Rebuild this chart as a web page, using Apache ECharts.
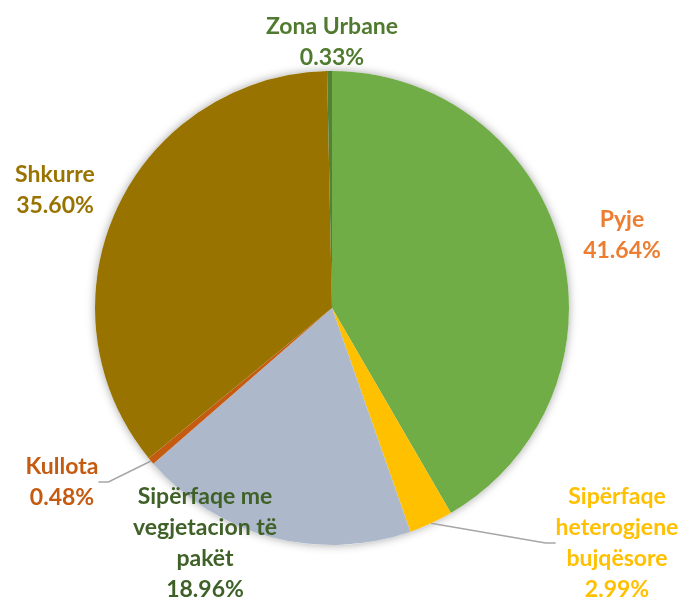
<!DOCTYPE html>
<html>
<head>
<meta charset="utf-8">
<script src="https://cdn.jsdelivr.net/npm/echarts@6/dist/echarts.min.js"></script>
<style>
  html, body { margin: 0; padding: 0; background: #fff; }
  #chart { width: 681px; height: 601px; }
</style>
</head>
<body>
<div id="chart"></div>
<script>
// kategoritë dhe përqindjet
var names = ['Pyje', 'Sipërfaqe\nheterogjene\nbujqësore', 'Sipërfaqe me\nvegjetacion të\npakët', 'Kullota', 'Shkurre', 'Zona Urbane'];
var values = [41.64, 2.99, 18.96, 0.48, 35.60, 0.33];
var sliceColors = ['#70AD47', '#FFC000', '#ADB9CA', '#C55A11', '#997300', '#548235'];
var labelColors = ['#ED7D31', '#FFC000', '#3F6128', '#C55A11', '#997300', '#4F7A2F'];
// qendrat e etiketave
var labelPos = [[622, 235], [617, 543], [205, 543], [62, 482], [55, 190], [332, 42]];
var withLine = [false, true, false, true, false, false];

var myChart = echarts.init(document.getElementById('chart'));

var data = [];
for (var i = 0; i < names.length; i++) {
  data.push({
    name: names[i],
    value: values[i],
    itemStyle: { color: sliceColors[i] },
    label: { color: labelColors[i] },
    labelLine: { show: withLine[i] }
  });
}

var option = {
  animation: false,
  series: [
    {
      // hija rreth byrekut
      type: 'pie',
      silent: true,
      center: [332, 308],
      radius: 237,
      z: 1,
      label: { show: false },
      labelLine: { show: false },
      itemStyle: { color: '#fff', shadowBlur: 10, shadowColor: 'rgba(0,0,0,0.35)' },
      data: [1]
    },
    {
      type: 'pie',
      center: [332, 308],
      radius: 237,
      startAngle: 90,
      clockwise: true,
      z: 2,
      itemStyle: { borderWidth: 0 },
      label: {
        show: true,
        position: 'outside',
        overflow: 'none',
        formatter: function (p) { return p.name + '\n' + p.value.toFixed(2) + '%'; },
        fontFamily: 'Lato',
        fontWeight: 'bold',
        fontSize: 23,
        lineHeight: 31,
        align: 'center'
      },
      labelLine: {
        length: 10,
        length2: 10,
        smooth: false,
        lineStyle: { color: '#A6A6A6', width: 1.5 }
      },
      labelLayout: function (params) {
        var p = labelPos[params.dataIndex];
        return { x: p[0], y: p[1], align: 'center', verticalAlign: 'middle' };
      },
      data: data
    }
  ]
};

myChart.setOption(option);
</script>
</body>
</html>
